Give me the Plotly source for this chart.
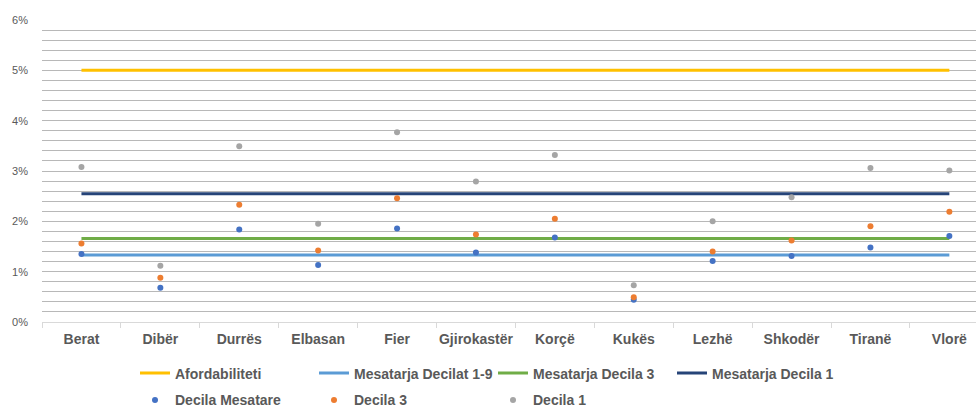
import plotly.graph_objects as go

regions = ["Berat", "Dibër", "Durrës", "Elbasan", "Fier", "Gjirokastër",
           "Korçë", "Kukës", "Lezhë", "Shkodër", "Tiranë", "Vlorë"]

afordabiliteti = [0.050] * 12
mesatarja_decilat_1_9 = [0.0133] * 12
mesatarja_decila_3 = [0.0166] * 12
mesatarja_decila_1 = [0.0255] * 12

decila_mesatare = [0.0135, 0.0068, 0.0184, 0.0113, 0.0186, 0.0138,
                   0.0168, 0.0044, 0.0121, 0.0131, 0.0148, 0.0171]
decila_3 = [0.0156, 0.0088, 0.0233, 0.0142, 0.0246, 0.0174,
            0.0205, 0.0049, 0.0140, 0.0162, 0.0190, 0.0219]
decila_1 = [0.0308, 0.0112, 0.0349, 0.0195, 0.0377, 0.0279,
            0.0332, 0.0073, 0.0200, 0.0248, 0.0306, 0.0301]

FONT = "Liberation Sans, Arial, sans-serif"
TXT = "#595959"

fig = go.Figure()

line_series = [
    ("Afordabiliteti", afordabiliteti, "#FFC000"),
    ("Mesatarja Decilat 1-9", mesatarja_decilat_1_9, "#5B9BD5"),
    ("Mesatarja Decila 3", mesatarja_decila_3, "#70AD47"),
    ("Mesatarja Decila 1", mesatarja_decila_1, "#264478"),
]
for name, vals, col in line_series:
    fig.add_trace(go.Scatter(x=regions, y=vals, mode="lines", name=name,
                             line=dict(color=col, width=3), legend="legend"))

marker_series = [
    ("Decila Mesatare", decila_mesatare, "#4472C4"),
    ("Decila 3", decila_3, "#ED7D31"),
    ("Decila 1", decila_1, "#A5A5A5"),
]
for name, vals, col in marker_series:
    fig.add_trace(go.Scatter(x=regions, y=vals, mode="markers", name=name,
                             marker=dict(color=col, size=6), legend="legend2"))

W, H = 976, 408
L, R, T, B = 42, 0, 20, 85.5
plot_w = W - L - R
plot_h = H - T - B
zero_px = H - B
spacing = 78.9
xmax = -0.5 + plot_w / spacing

legend_common = dict(orientation="h", xanchor="left", yanchor="top",
                     entrywidth=134, entrywidthmode="pixels",
                     font=dict(family=FONT, size=14, color=TXT, weight="bold"),
                     bgcolor="rgba(0,0,0,0)", itemwidth=30,
                     tracegroupgap=0)

fig.update_layout(
    width=W, height=H,
    margin=dict(l=L, r=R, t=T, b=B, autoexpand=False),
    plot_bgcolor="white", paper_bgcolor="white",
    font=dict(family=FONT, color=TXT),
    showlegend=True,
    legend=dict(**legend_common, x=(135 - L) / plot_w, y=(zero_px - 358) / plot_h),
    legend2=dict(**legend_common, x=(135 - L) / plot_w, y=(zero_px - 385) / plot_h),
    xaxis=dict(
        type="category", categoryorder="array", categoryarray=regions,
        range=[-0.5, xmax], automargin=False, tickangle=0,
        showgrid=False, showline=True, linecolor="#D9D9D9", linewidth=1,
        ticks="outside", tickson="boundaries", ticklen=5, tickcolor="#D9D9D9",
        tickfont=dict(family=FONT, size=14, color=TXT, weight="bold"),
        ticklabelstandoff=4,
        fixedrange=True,
    ),
    yaxis=dict(
        range=[0, 0.06], dtick=0.01, tickformat=".0%", automargin=False,
        showgrid=True, gridcolor="#B8B8B8", gridwidth=1,
        minor=dict(dtick=0.002, showgrid=True, gridcolor="#B8B8B8", gridwidth=1),
        zeroline=False, showline=False,
        tickfont=dict(family=FONT, size=11, color=TXT),
        ticklabelstandoff=13,
        fixedrange=True,
    ),
)

fig.write_html("out.html",
               config={"displayModeBar": False},
               post_script="document.body.style.margin='0';document.body.style.padding='0';")
